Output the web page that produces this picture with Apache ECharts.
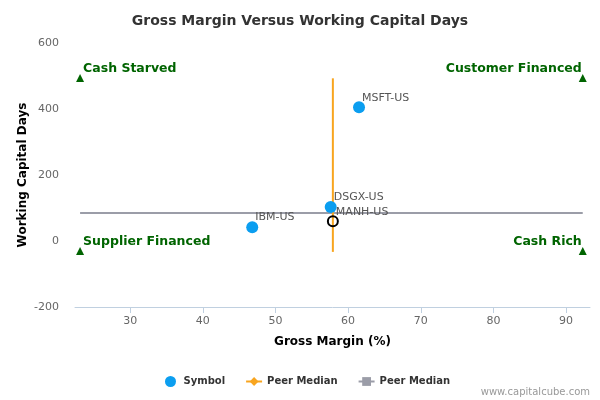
<!DOCTYPE html>
<html>
<head>
<meta charset="utf-8">
<script src="https://cdn.jsdelivr.net/npm/echarts@6/dist/echarts.min.js"></script>
<style>
html,body{margin:0;padding:0;background:#fff;}
#main{width:600px;height:400px;}
</style>
</head>
<body>
<div id="main"></div>
<script>
// Peer companies
var symbolNames = ['IBM-US', 'DSGX-US', 'MSFT-US'];
var symbolGrossMargin = [46.8, 57.6, 61.5];
var symbolWCDays = [42, 103, 405];

// Subject company
var subjectName = 'MANH-US';
var subjectGrossMargin = 57.9;
var subjectWCDays = 60;

// Peer medians
var medianGrossMargin = 57.9;
var medianGMRange = [-33, 493];
var medianWCDays = 85;
var medianWCRange = [23.1, 92.3];

// Quadrant markers
var quadrantNames = ['Cash Starved', 'Customer Financed', 'Supplier Financed', 'Cash Rich'];
var quadrantX = [23.1, 92.3, 23.1, 92.3];
var quadrantY = [494, 494, -30, -30];

// Axes
var xMin = 22.4, xMax = 93.3;
var xTicks = [30, 40, 50, 60, 70, 80, 90];
var yMin = -200, yMax = 600, yInterval = 200;

var FONT = 'DejaVu Sans';
var chart = echarts.init(document.getElementById('main'), null, {renderer: 'canvas'});

var symbolData = symbolNames.map(function (n, i) {
  return {name: n, value: [symbolGrossMargin[i], symbolWCDays[i]]};
});
var quadData = quadrantNames.map(function (n, i) {
  var right = i % 2 === 1;
  return {
    name: n,
    value: [quadrantX[i], quadrantY[i]],
    label: {position: right ? [3, -12] : [7, -12], align: right ? 'right' : 'left'}
  };
});

var ptLabel = {
  show: true,
  formatter: '{b}',
  position: [9, -9],
  color: '#555',
  fontSize: 11,
  fontFamily: FONT
};

chart.setOption({
  animation: false,
  textStyle: {fontFamily: FONT},
  title: {
    text: 'Gross Margin Versus Working Capital Days',
    left: 'center',
    top: 9,
    textStyle: {fontSize: 14, fontWeight: 'bold', color: '#333', fontFamily: FONT}
  },
  legend: {
    bottom: 8,
    left: 160,
    itemGap: 20,
    itemWidth: 16,
    itemHeight: 11,
    data: [
      {name: 'Symbol', icon: 'circle'},
      {name: 'Peer Median'},
      {name: 'Peer Median '}
    ],
    textStyle: {fontSize: 10, fontWeight: 'bold', color: '#333', fontFamily: FONT}
  },
  graphic: [{
    type: 'text',
    right: 10,
    bottom: 3,
    style: {text: 'www.capitalcube.com', fill: '#999', fontSize: 10, fontFamily: FONT}
  }],
  grid: {left: 75, right: 10, top: 43, bottom: 93},
  xAxis: {
    type: 'value',
    min: xMin,
    max: xMax,
    name: 'Gross Margin (%)',
    nameLocation: 'middle',
    nameGap: 29,
    nameMoveOverlap: false,
    nameTextStyle: {fontSize: 12, fontWeight: 'bold', color: '#000', fontFamily: FONT},
    axisLine: {show: true, onZero: false, lineStyle: {color: '#c0d0e0', width: 1}},
    axisTick: {show: true, length: 6, customValues: xTicks, lineStyle: {color: '#c0d0e0'}},
    axisLabel: {customValues: xTicks, color: '#666', fontSize: 11, margin: 9, fontFamily: FONT},
    splitLine: {show: false}
  },
  yAxis: {
    type: 'value',
    min: yMin,
    max: yMax,
    interval: yInterval,
    name: 'Working Capital Days',
    nameLocation: 'middle',
    nameGap: 46,
    nameMoveOverlap: false,
    nameTextStyle: {fontSize: 12, fontWeight: 'bold', color: '#000', fontFamily: FONT},
    axisLine: {show: false},
    axisTick: {show: false},
    axisLabel: {color: '#666', fontSize: 11, margin: 16, fontFamily: FONT},
    splitLine: {show: false}
  },
  series: [
    {
      name: 'Peer Median ',
      type: 'line',
      symbol: 'rect',
      showSymbol: false,
      z: 1,
      lineStyle: {color: '#9b9da8', width: 2},
      itemStyle: {color: '#9b9da8'},
      data: [[medianWCRange[0], medianWCDays], [medianWCRange[1], medianWCDays]]
    },
    {
      name: 'Peer Median',
      type: 'line',
      symbol: 'diamond',
      showSymbol: false,
      z: 2,
      lineStyle: {color: '#f8a51f', width: 2},
      itemStyle: {color: '#f8a51f'},
      data: [[medianGrossMargin, medianGMRange[0]], [medianGrossMargin, medianGMRange[1]]]
    },
    {
      name: 'Symbol',
      type: 'scatter',
      symbol: 'circle',
      symbolSize: 12,
      z: 3,
      itemStyle: {color: '#0b9ef0', opacity: 1},
      label: ptLabel,
      data: symbolData
    },
    {
      name: 'Subject',
      type: 'scatter',
      symbol: 'circle',
      symbolSize: 10,
      z: 4,
      itemStyle: {color: 'rgba(255,255,255,0)', borderColor: '#000', borderWidth: 2, opacity: 1},
      label: ptLabel,
      data: [{name: subjectName, value: [subjectGrossMargin, subjectWCDays]}]
    },
    {
      name: 'Quadrants',
      type: 'scatter',
      symbol: 'triangle',
      symbolSize: 8,
      z: 3,
      itemStyle: {color: '#006400', opacity: 1},
      label: {
        show: true,
        formatter: '{b}',
        color: '#006400',
        fontSize: 12.5,
        fontWeight: 'bold',
        fontFamily: FONT
      },
      data: quadData
    }
  ]
});
</script>
</body>
</html>
